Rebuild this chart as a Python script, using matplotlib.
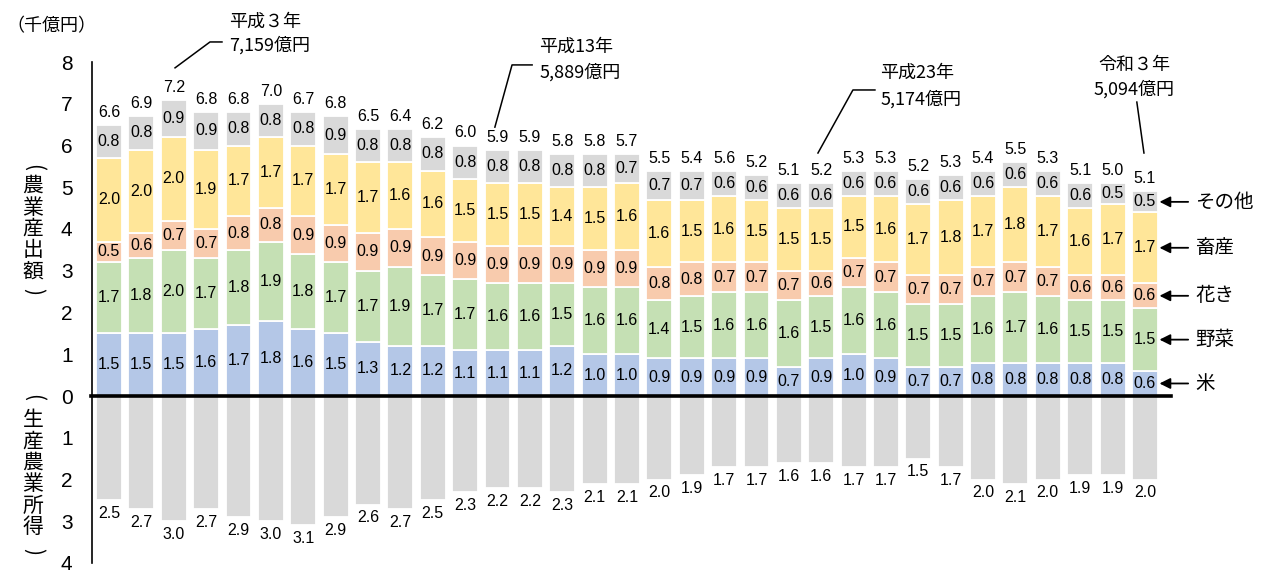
import numpy as np
import matplotlib
matplotlib.use("Agg")
import matplotlib.pyplot as plt

plt.rcParams['font.family'] = ['Liberation Sans', 'Noto Sans CJK JP', 'DejaVu Sans']

# 平成元年(1989) ～ 令和3年(2021)
years = list(range(1989, 2022))

kome = [1.5, 1.5, 1.5, 1.6, 1.7, 1.8, 1.6, 1.5, 1.3, 1.2, 1.2, 1.1, 1.1, 1.1, 1.2, 1.0, 1.0,
        0.9, 0.9, 0.9, 0.9, 0.7, 0.9, 1.0, 0.9, 0.7, 0.7, 0.8, 0.8, 0.8, 0.8, 0.8, 0.6]
yasai = [1.7, 1.8, 2.0, 1.7, 1.8, 1.9, 1.8, 1.7, 1.7, 1.9, 1.7, 1.7, 1.6, 1.6, 1.5, 1.6, 1.6,
         1.4, 1.5, 1.6, 1.6, 1.6, 1.5, 1.6, 1.6, 1.5, 1.5, 1.6, 1.7, 1.6, 1.5, 1.5, 1.5]
kaki = [0.5, 0.6, 0.7, 0.7, 0.8, 0.8, 0.9, 0.9, 0.9, 0.9, 0.9, 0.9, 0.9, 0.9, 0.9, 0.9, 0.9,
        0.8, 0.8, 0.7, 0.7, 0.7, 0.6, 0.7, 0.7, 0.7, 0.7, 0.7, 0.7, 0.7, 0.6, 0.6, 0.6]
chikusan = [2.0, 2.0, 2.0, 1.9, 1.7, 1.7, 1.7, 1.7, 1.7, 1.6, 1.6, 1.5, 1.5, 1.5, 1.4, 1.5, 1.6,
            1.6, 1.5, 1.6, 1.5, 1.5, 1.5, 1.5, 1.6, 1.7, 1.8, 1.7, 1.8, 1.7, 1.6, 1.7, 1.7]
sonota = [0.8, 0.8, 0.9, 0.9, 0.8, 0.8, 0.8, 0.9, 0.8, 0.8, 0.8, 0.8, 0.8, 0.8, 0.8, 0.8, 0.7,
          0.7, 0.7, 0.6, 0.6, 0.6, 0.6, 0.6, 0.6, 0.6, 0.6, 0.6, 0.6, 0.6, 0.6, 0.5, 0.5]
total = [6.6, 6.9, 7.2, 6.8, 6.8, 7.0, 6.7, 6.8, 6.5, 6.4, 6.2, 6.0, 5.9, 5.9, 5.8, 5.8, 5.7,
         5.5, 5.4, 5.6, 5.2, 5.1, 5.2, 5.3, 5.3, 5.2, 5.3, 5.4, 5.5, 5.3, 5.1, 5.0, 5.1]
shotoku = [2.5, 2.7, 3.0, 2.7, 2.9, 3.0, 3.1, 2.9, 2.6, 2.7, 2.5, 2.3, 2.2, 2.2, 2.3, 2.1, 2.1,
           2.0, 1.9, 1.7, 1.7, 1.6, 1.6, 1.7, 1.7, 1.5, 1.7, 2.0, 2.1, 2.0, 1.9, 1.9, 2.0]

series = [kome, yasai, kaki, chikusan, sonota]
names = ['米', '野菜', '花き', '畜産', 'その他']
colors = ['#b4c7e7', '#c5e0b4', '#f8cbad', '#ffe699', '#d9d9d9']

# 注記（年・金額）
notes = [
    ('平成３年', '7,159億円', 1991),
    ('平成13年', '5,889億円', 2001),
    ('平成23年', '5,174億円', 2011),
    ('令和３年', '5,094億円', 2021),
]

jp = ['Noto Sans CJK JP', 'DejaVu Sans']
num = ['Liberation Sans', 'DejaVu Sans']

fig = plt.figure(figsize=(12.66, 5.72), dpi=100)
ax = fig.add_axes([92 / 1266, 9 / 572, 1174 / 1266, 501 / 572])

x = np.arange(len(years))
w = 0.8
bottom = np.zeros(len(years))
for vals, c in zip(series, colors):
    vals = np.array(vals)
    ax.bar(x, vals, w, bottom=bottom, color=c, edgecolor='white', linewidth=1.3)
    for xi, b, v in zip(x, bottom, vals):
        ax.text(xi, b + v / 2, f'{v:.1f}', ha='center', va='center', fontsize=11.5, family=num)
    bottom = bottom + vals

for xi, top, t in zip(x, bottom, total):
    ax.text(xi, top + 0.12, f'{t:.1f}', ha='center', va='bottom', fontsize=11.5, family=num)

inc = np.array(shotoku)
ax.bar(x, -inc, w, color='#d9d9d9', edgecolor='white', linewidth=1.3)
for xi, v in zip(x, inc):
    ax.text(xi, -v - 0.14, f'{v:.1f}', ha='center', va='top', fontsize=11.5, family=num)

# 0の太線
ax.plot([x[0] - 0.55, x[-1] + 0.8], [0, 0], color='black', lw=2.6, clip_on=False, zorder=5)

ax.set_xlim(-0.525, 35.74)
ax.set_ylim(-4, 8)
for s in ['top', 'right', 'bottom']:
    ax.spines[s].set_visible(False)
ax.spines['left'].set_linewidth(1.2)
ax.set_xticks([])
ticks = list(range(-4, 9))
ax.set_yticks(ticks)
ax.set_yticklabels([str(abs(t)) for t in ticks], family=num)
ax.tick_params(axis='y', length=0, pad=14, labelsize=15)

# 右側の凡例（矢印）
last = len(years) - 1
cum = 0
for vals, name in zip(series, names):
    yc = cum + vals[last] / 2
    cum += vals[last]
    ax.annotate(name, xy=(last + 0.45, yc), xytext=(last + 1.55, yc),
                ha='left', va='center', fontsize=14, family=jp,
                arrowprops=dict(arrowstyle='-|>', color='black', lw=1.3,
                                mutation_scale=16, shrinkA=3, shrinkB=0),
                annotation_clip=False)

# 引き出し線付きの注記
for k, (lab1, lab2, yr) in enumerate(notes):
    i = years.index(yr)
    t = total[i]
    if k == 0:
        pts = [(i + 0.04, t + 0.66), (i + 1.12, t + 1.28), (i + 1.49, t + 1.28)]
        tx, ha, y1, y2 = i + 1.72, 'left', t + 1.76, t + 1.21
    elif k == 1:
        pts = [(i - 0.08, t + 0.54), (i + 0.45, t + 2.03), (i + 1.07, t + 2.03)]
        tx, ha, y1, y2 = i + 1.3, 'left', t + 2.46, t + 1.86
    elif k == 2:
        pts = [(i - 0.1, t + 0.62), (i + 0.98, t + 2.13), (i + 1.66, t + 2.13)]
        tx, ha, y1, y2 = i + 1.83, 'left', t + 2.54, t + 1.91
    else:
        pts = [(i - 0.03, t + 0.72), (i - 0.25, t + 1.94)]
        tx, ha, y1, y2 = i - 0.33, 'center', t + 2.83, t + 2.25
    px, py = zip(*pts)
    ax.plot(px, py, color='black', lw=1.1, clip_on=False)
    ax.text(tx, y1, lab1, ha=ha, va='center', fontsize=13, family=jp, clip_on=False)
    ax.text(tx, y2, lab2, ha=ha, va='center', fontsize=13, family=jp, clip_on=False)

# 軸ラベル（縦書き）
fig.text(6 / 1266, 1 - 26 / 572, '（千億円）', ha='left', va='center', fontsize=13, family=jp)


def tategaki(chars, y_top, y_bot):
    ymid = (y_top + y_bot) / 2
    fig.text(33 / 1266, 1 - ymid / 572, '\n'.join(chars), ha='center', va='center',
             fontsize=15, family=jp, linespacing=0.97)
    fig.text(33 / 1266, 1 - (y_top - 20) / 572, '(', rotation=-90, ha='center', va='center',
             fontsize=15, family=jp)
    fig.text(33 / 1266, 1 - (y_bot + 22) / 572, ')', rotation=-90, ha='center', va='center',
             fontsize=15, family=jp)


tategaki('農業産出額', 188, 270)
tategaki('生産農業所得', 417, 530)

fig.savefig('out.png', dpi=100)
